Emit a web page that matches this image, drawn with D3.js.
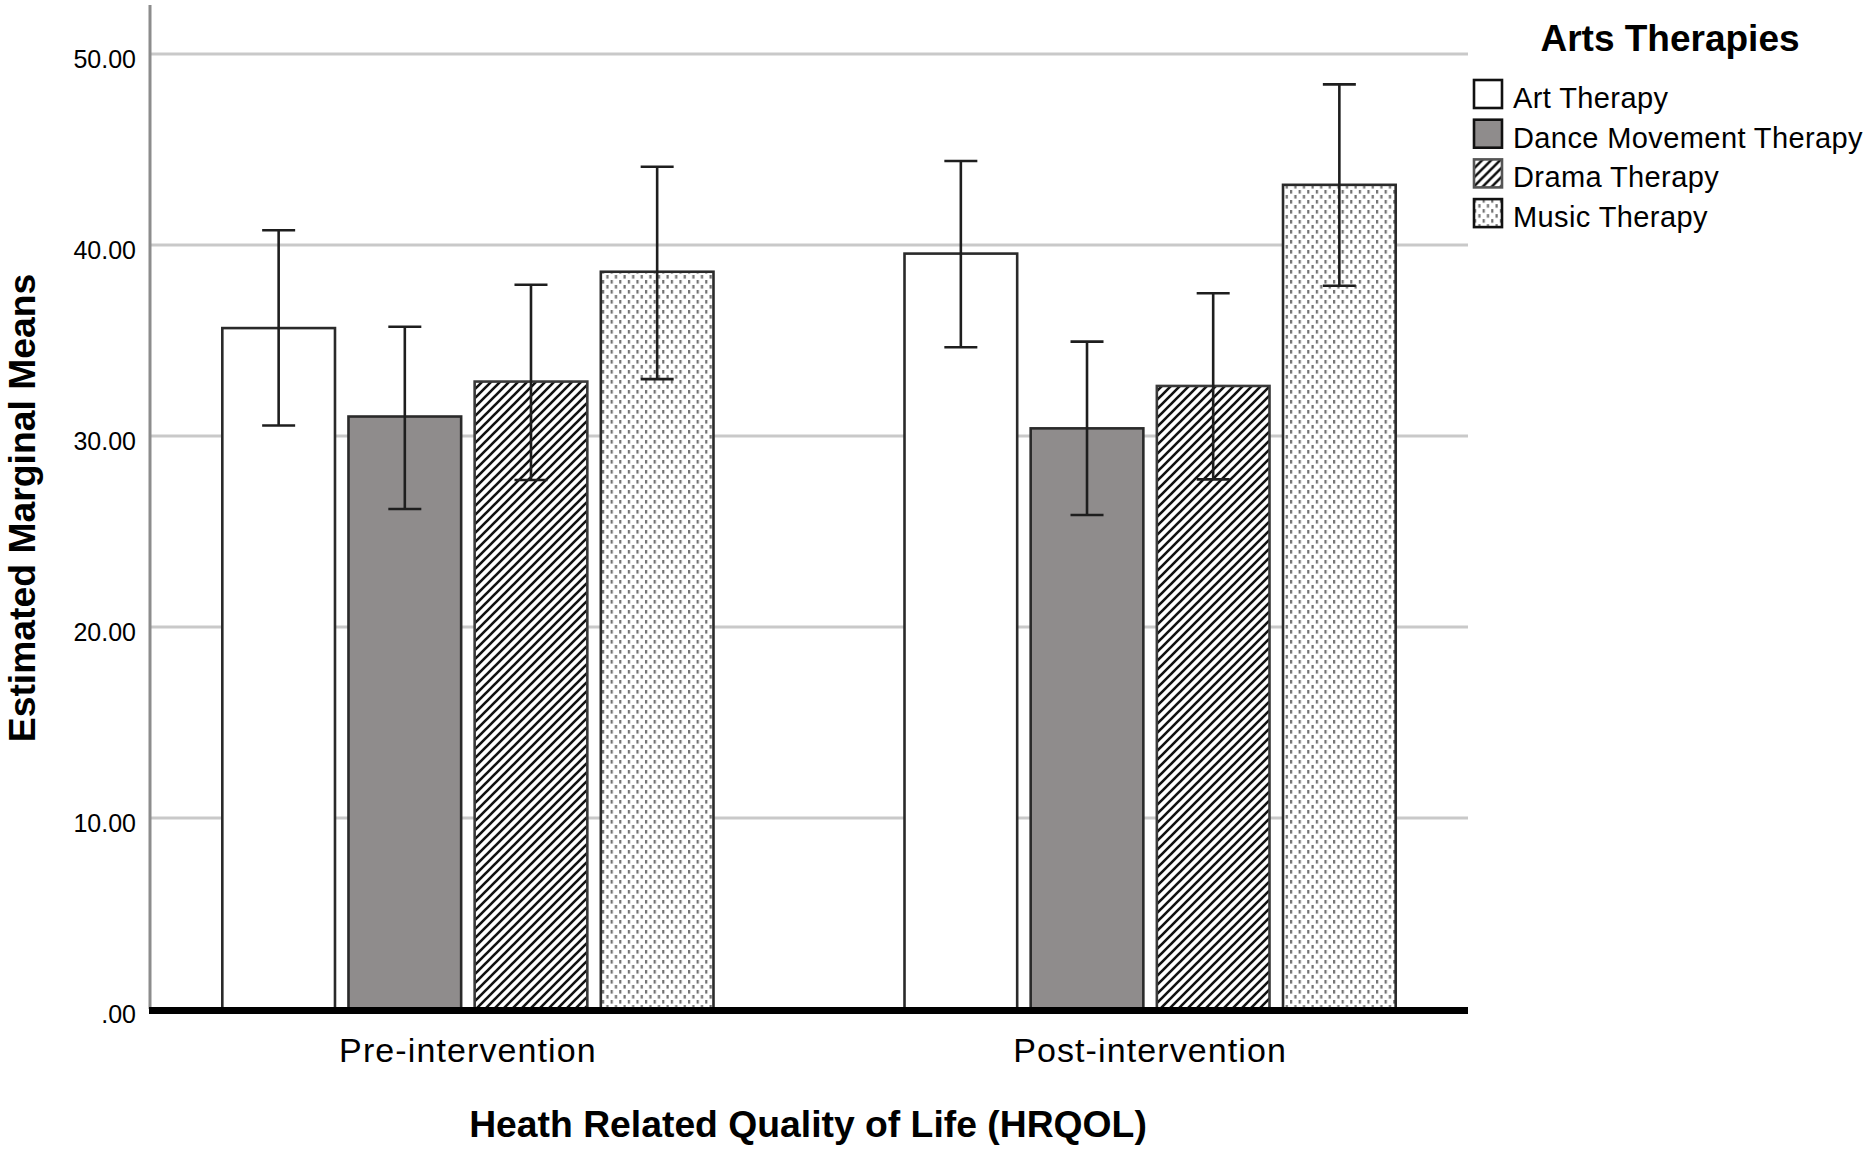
<!DOCTYPE html>
<html>
<head>
<meta charset="utf-8">
<script src="https://cdn.jsdelivr.net/npm/d3@7"></script>
<style>
  html, body { margin: 0; padding: 0; background: #fff; }
  svg { display: block; }
  text { font-family: "Liberation Sans", Arial, sans-serif; fill: #000; }
</style>
</head>
<body>
<svg id="chart" width="1869" height="1149"></svg>
<script>
// ---- data ----
const categories = ["Pre-intervention", "Post-intervention"];
const series = ["Art Therapy", "Dance Movement Therapy", "Drama Therapy", "Music Therapy"];
const artMeans   = [35.65, 39.55];
const danceMeans = [31.02, 30.40];
const dramaMeans = [32.85, 32.62];
const musicMeans = [38.60, 43.15];
const artLower   = [30.55, 34.65];
const artUpper   = [40.77, 44.40];
const danceLower = [26.18, 25.86];
const danceUpper = [35.72, 34.94];
const dramaLower = [27.70, 27.73];
const dramaUpper = [37.92, 37.47];
const musicLower = [32.98, 37.87];
const musicUpper = [44.10, 48.41];
const yTickValues = [0, 10, 20, 30, 40, 50];
const yTickLabels = [".00", "10.00", "20.00", "30.00", "40.00", "50.00"];
const legendTitle = "Arts Therapies";
const xTitle = "Heath Related Quality of Life (HRQOL)";
const yTitle = "Estimated Marginal Means";

const meansBySeries = [artMeans, danceMeans, dramaMeans, musicMeans];
const lowerBySeries = [artLower, danceLower, dramaLower, musicLower];
const upperBySeries = [artUpper, danceUpper, dramaUpper, musicUpper];

const rows = [];
categories.forEach((c, ci) => {
  series.forEach((s, si) => {
    rows.push({cat: c, ser: s, si, mean: meansBySeries[si][ci], lo: lowerBySeries[si][ci], hi: upperBySeries[si][ci]});
  });
});

// ---- layout ----
const svg = d3.select("#chart");
const plotLeft = 150, plotRight = 1468, plotTop = 54, plotBottom = 1009;

const x0 = d3.scaleBand().domain(categories).range([plotLeft, plotRight])
  .paddingInner(0.28).paddingOuter(0.106);
const x1 = d3.scaleBand().domain(series).range([0, x0.bandwidth()])
  .paddingInner(0.107).paddingOuter(0);
const y = d3.scaleLinear().domain([0, 50]).range([plotBottom, plotTop]);

// ---- patterns ----
const defs = svg.append("defs");
const hatch = defs.append("pattern").attr("id", "hatch")
  .attr("patternUnits", "userSpaceOnUse").attr("width", 9).attr("height", 9);
hatch.append("rect").attr("width", 9).attr("height", 9).attr("fill", "#fff");
hatch.append("path").attr("d", "M-2.25,2.25 L2.25,-2.25 M0,9 L9,0 M6.75,11.25 L11.25,6.75")
  .attr("stroke", "#111").attr("stroke-width", 2.6);

const dots = defs.append("pattern").attr("id", "dots")
  .attr("patternUnits", "userSpaceOnUse").attr("width", 8.6).attr("height", 10);
dots.append("rect").attr("width", 8.6).attr("height", 10).attr("fill", "#fff");
dots.append("rect").attr("x", 0).attr("y", 0).attr("width", 2.2).attr("height", 3.6).attr("fill", "#727272");
dots.append("rect").attr("x", 4.3).attr("y", 5).attr("width", 2.2).attr("height", 3.6).attr("fill", "#727272");

const fills = ["#ffffff", "#8f8c8c", "url(#hatch)", "url(#dots)"];
const strokes = ["#2a2a2a", "#2a2a2a", "#3a3a3a", "#2a2a2a"];

// ---- gridlines ----
svg.append("g").selectAll("line").data(yTickValues.filter(v => v > 0)).join("line")
  .attr("x1", plotLeft).attr("x2", plotRight)
  .attr("y1", d => y(d)).attr("y2", d => y(d))
  .attr("stroke", "#c9c9c9").attr("stroke-width", 3);

// ---- y axis ----
const yAxis = d3.axisLeft(y).tickValues(yTickValues)
  .tickFormat((d, i) => yTickLabels[i]).tickSize(0).tickPadding(14);
const gy = svg.append("g").attr("transform", `translate(${plotLeft},0)`).call(yAxis);
gy.select(".domain").remove();
gy.selectAll("text").attr("font-size", 25).attr("font-family", "Liberation Sans, Arial, sans-serif")
  .attr("fill", "#111").attr("dy", "0.52em");

svg.append("line").attr("x1", plotLeft).attr("x2", plotLeft).attr("y1", 5).attr("y2", plotBottom)
  .attr("stroke", "#8c8c8c").attr("stroke-width", 3);

// ---- bars ----
const barsG = svg.append("g");
barsG.selectAll("rect").data(rows).join("rect")
  .attr("x", d => x0(d.cat) + x1(d.ser))
  .attr("y", d => y(d.mean))
  .attr("width", x1.bandwidth())
  .attr("height", d => y(0) - y(d.mean))
  .attr("fill", d => fills[d.si])
  .attr("stroke", d => strokes[d.si])
  .attr("stroke-width", 2.6);

// ---- error bars ----
const capHalf = 16.5;
const eg = svg.append("g").attr("stroke", "#1e1e1e").attr("stroke-width", 2.6);
rows.forEach(d => {
  const cx = x0(d.cat) + x1(d.ser) + x1.bandwidth() / 2;
  eg.append("line").attr("x1", cx).attr("x2", cx).attr("y1", y(d.hi)).attr("y2", y(d.lo));
  eg.append("line").attr("x1", cx - capHalf).attr("x2", cx + capHalf).attr("y1", y(d.hi)).attr("y2", y(d.hi));
  eg.append("line").attr("x1", cx - capHalf).attr("x2", cx + capHalf).attr("y1", y(d.lo)).attr("y2", y(d.lo));
});

// ---- baseline ----
svg.append("line").attr("x1", plotLeft - 1).attr("x2", plotRight).attr("y1", y(0) + 1.5).attr("y2", y(0) + 1.5)
  .attr("stroke", "#000").attr("stroke-width", 7);

// ---- x axis labels ----
const xAxis = d3.axisBottom(x0).tickSize(0).tickPadding(0);
const gx = svg.append("g").attr("transform", `translate(0,1062)`).call(xAxis);
gx.select(".domain").remove();
gx.selectAll("text").attr("font-size", 34).attr("font-family", "Liberation Sans, Arial, sans-serif")
  .attr("letter-spacing", 1.1).attr("fill", "#111").attr("dy", 0).attr("y", 0);

// ---- titles ----
svg.append("text").attr("x", 808).attr("y", 1137).attr("text-anchor", "middle")
  .attr("font-size", 37.3).attr("font-weight", "bold").text(xTitle);
svg.append("text").attr("transform", "translate(35,508) rotate(-90)").attr("text-anchor", "middle")
  .attr("font-size", 37.3).attr("font-weight", "bold").text(yTitle);

// ---- legend ----
const lg = svg.append("g");
lg.append("text").attr("x", 1670).attr("y", 51).attr("text-anchor", "middle")
  .attr("font-size", 37).attr("font-weight", "bold").text(legendTitle);
const items = lg.selectAll("g.item").data(series).join("g").attr("class", "item")
  .attr("transform", (d, i) => `translate(1474,${80 + i * 39.7})`);
items.append("rect").attr("width", 28).attr("height", 28)
  .attr("fill", (d, i) => fills[i])
  .attr("stroke", (d, i) => i === 2 ? "#555" : "#111").attr("stroke-width", 2.6);
items.append("text").attr("x", 39).attr("y", 28).attr("font-size", 29)
  .attr("letter-spacing", 0.4).text(d => d);
</script>
</body>
</html>
